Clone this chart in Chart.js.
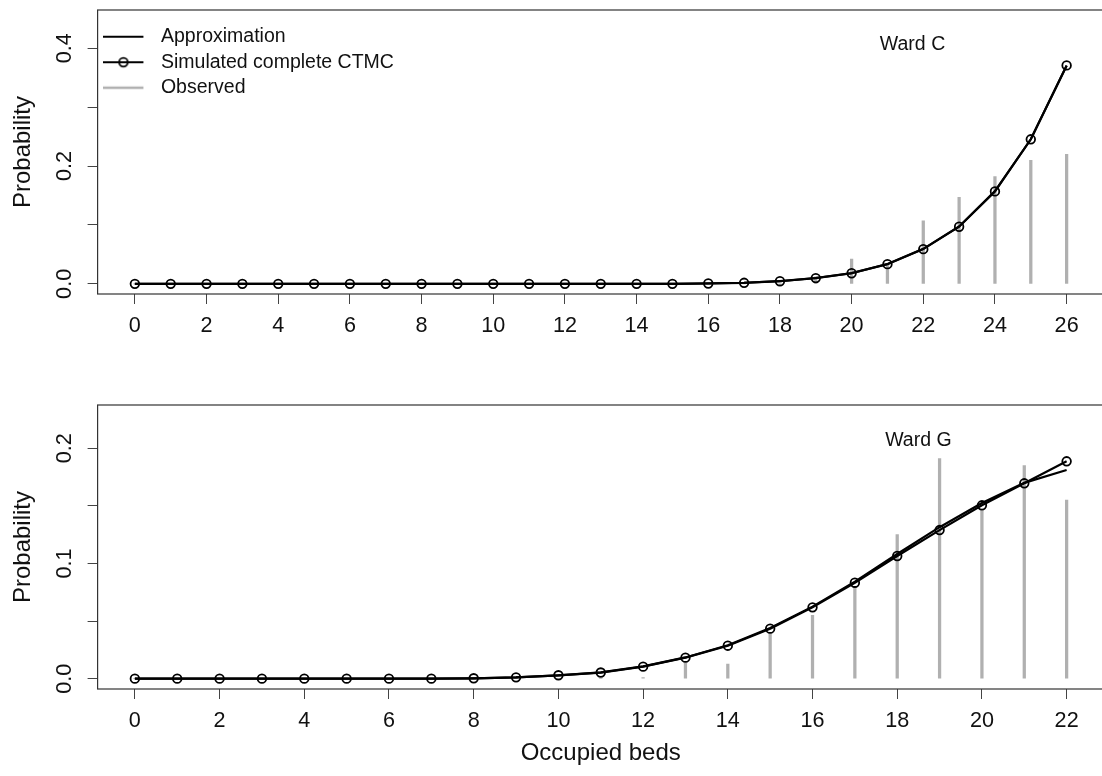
<!DOCTYPE html>
<html>
<head>
<meta charset="utf-8">
<script src="https://cdn.jsdelivr.net/npm/chart.js@4.4.1/dist/chart.umd.min.js"></script>
<style>
  html, body { margin: 0; padding: 0; background: #fff; overflow: hidden; }
  #wrap { position: relative; width: 1102px; height: 776px; overflow: hidden; }
  .panel { position: absolute; left: 0; }
  #top { top: 0; }
  #bottom { top: 390px; }
</style>
</head>
<body>
<div id="wrap">
  <div class="panel" id="top"><canvas id="wardC" width="1110" height="390"></canvas></div>
  <div class="panel" id="bottom"><canvas id="wardG" width="1110" height="386"></canvas></div>
</div>
<script>
// Ward C
const bedsC = [0,1,2,3,4,5,6,7,8,9,10,11,12,13,14,15,16,17,18,19,20,21,22,23,24,25,26];
const approxC = [0,0,0,0,0,0,0,0,0,0,0,0,0,0,0,0,0.0007,0.0019,0.0047,0.0100,0.0183,0.0338,0.0595,0.0975,0.1575,0.2455,0.3705];
const simC = [0,0,0,0,0,0,0,0,0,0,0,0,0,0,0,0,0.0006,0.0018,0.0045,0.0098,0.0180,0.0335,0.0590,0.0970,0.1570,0.2455,0.3710];
const obsC = [0,0,0,0,0,0,0,0,0,0,0,0,0,0,0,0,0,0,0,0.012,0.042,0.033,0.107,0.147,0.182,0.210,0.220];
const xTicksC = [0,2,4,6,8,10,12,14,16,18,20,22,24,26];
const yTicksC = [0, 0.1, 0.2, 0.3, 0.4];
const yLabelsC = ['0.0', '', '0.2', '', '0.4'];

// Ward G
const bedsG = [0,1,2,3,4,5,6,7,8,9,10,11,12,13,14,15,16,17,18,19,20,21,22];
const approxG = [0,0,0,0,0,0,0,0,0.0003,0.0011,0.0028,0.0054,0.0106,0.0184,0.0290,0.0440,0.0625,0.0842,0.1082,0.1315,0.1525,0.1700,0.1811];
const simG = [0,0,0,0,0,0,0,0,0.0003,0.0011,0.0029,0.0053,0.0104,0.0182,0.0286,0.0434,0.0619,0.0833,0.1065,0.1290,0.1505,0.1696,0.1887];
const obsG = [0,0,0,0,0,0,0,0,0,0,0,0,0.001,0.014,0.0127,0.040,0.055,0.080,0.125,0.191,0.146,0.185,0.155];
const xTicksG = [0,2,4,6,8,10,12,14,16,18,20,22];
const yTicksG = [0, 0.05, 0.1, 0.15, 0.2];
const yLabelsG = ['0.0', '', '0.1', '', '0.2'];

const seriesNames = ['Approximation', 'Simulated complete CTMC', 'Observed'];

Chart.defaults.font.family = '"Liberation Sans", Arial, Helvetica, sans-serif';
Chart.defaults.color = '#111';

const frame = {
  id: 'frame',
  beforeDatasetsDraw(chart) {
    const { ctx, chartArea: a } = chart;
    ctx.save();
    ctx.strokeStyle = '#333';
    ctx.lineWidth = 1.2;
    ctx.strokeRect(a.left, a.top, a.right - a.left, a.bottom - a.top);
    ctx.restore();
  }
};

const wardLabel = {
  id: 'wardLabel',
  afterDatasetsDraw(chart, args, opts) {
    if (!opts.text) return;
    const { ctx, scales } = chart;
    ctx.save();
    ctx.font = '19.5px "Liberation Sans", Arial, sans-serif';
    ctx.fillStyle = '#111';
    ctx.textAlign = 'center';
    ctx.textBaseline = 'middle';
    ctx.fillText(opts.text, scales.x.getPixelForValue(opts.x), scales.y.getPixelForValue(opts.y));
    ctx.restore();
  }
};

// little legend symbols in the R style
function legendIcon(kind) {
  const c = document.createElement('canvas');
  c.width = 48; c.height = 20;
  const g = c.getContext('2d');
  g.lineWidth = kind === 'obs' ? 2.6 : 2.2;
  g.strokeStyle = kind === 'obs' ? '#b0b0b0' : '#000';
  g.beginPath(); g.moveTo(0, 10); g.lineTo(40, 10); g.stroke();
  if (kind === 'sim') {
    g.lineWidth = 1.8;
    g.beginPath(); g.arc(20, 10, 4.3, 0, Math.PI * 2); g.stroke();
  }
  return c;
}
const icons = [legendIcon('line'), legendIcon('sim'), legendIcon('obs')];

const pts = (xs, ys) => xs.map((x, i) => ({ x: x, y: ys[i] }));

function makePanel(id, beds, approx, sim, obs, xTicks, yTicks, yLabels, yRange, cfg) {
  const tickFont = { size: 21.6 };
  const grid = { drawOnChartArea: false, drawTicks: true, tickLength: 10, lineWidth: 1, color: '#444', offset: false };
  return new Chart(document.getElementById(id), {
    type: 'line',
    data: {
      datasets: [
        { label: seriesNames[0], data: pts(beds, approx), borderColor: '#000', borderWidth: 2.2,
          pointRadius: 0, tension: 0, order: 2 },
        { label: seriesNames[1], data: pts(beds, sim), borderColor: '#000', borderWidth: 2.2,
          pointRadius: 4.3, pointBorderWidth: 1.8, pointBorderColor: '#000',
          pointBackgroundColor: 'rgba(0,0,0,0)', tension: 0, order: 1 },
        { type: 'bar', label: seriesNames[2], data: pts(beds, obs), backgroundColor: '#b0b0b0',
          barThickness: 2.6, order: 3 }
      ]
    },
    options: {
      responsive: false,
      animation: false,
      layout: { padding: { top: cfg.padTop, left: 0, right: 2, bottom: 0 } },
      plugins: {
        tooltip: { enabled: false },
        legend: {
          display: cfg.legend,
          position: 'chartArea',
          align: 'start',
          title: { display: true, text: '', font: { size: 10 }, padding: { top: 9, bottom: 0 } },
          labels: {
            usePointStyle: true,
            pointStyleWidth: 47.6,
            padding: 6,
            font: { size: 19.5 },
            generateLabels: chart => chart.data.datasets.map((ds, i) => ({
              text: ds.label, pointStyle: icons[i], datasetIndex: i, hidden: false,
              lineWidth: 0, fillStyle: 'rgba(0,0,0,0)', strokeStyle: 'rgba(0,0,0,0)', fontColor: '#111'
            }))
          }
        },
        wardLabel: cfg.ward
      },
      scales: {
        x: {
          type: 'linear', min: -0.04 * beds[beds.length - 1], max: 1.04 * beds[beds.length - 1],
          offset: false,
          afterBuildTicks: s => { s.ticks = xTicks.map(v => ({ value: v })); },
          afterFit: s => { s.height = cfg.xHeight; s.paddingLeft = 0; s.paddingRight = 0; },
          ticks: { autoSkip: false, minRotation: 0, maxRotation: 0, padding: 9,
            font: tickFont, color: '#111', callback: v => String(v) },
          grid: grid,
          border: { display: false },
          title: { display: cfg.xTitle, text: 'Occupied beds', font: { size: 24 }, color: '#111',
            padding: { top: 0, bottom: 8.6 } }
        },
        y: {
          type: 'linear', min: yRange[0], max: yRange[1],
          afterBuildTicks: s => { s.ticks = yTicks.map(v => ({ value: v })); },
          afterFit: s => { s.width = 97.6; s.paddingTop = 0; s.paddingBottom = 0; },
          ticks: { autoSkip: false, minRotation: 90, maxRotation: 90,
            crossAlign: 'center', padding: 8, font: tickFont, color: '#111', callback: (v, i) => yLabels[i] },
          grid: grid,
          border: { display: false },
          title: { display: true, text: 'Probability', font: { size: 24 }, color: '#111',
            padding: { top: 8.6, bottom: 0 } }
        }
      }
    },
    plugins: [frame, wardLabel]
  });
}

makePanel('wardC', bedsC, approxC, simC, obsC, xTicksC, yTicksC, yLabelsC, [-0.0172, 0.4651],
  { padTop: 10, xHeight: 96, legend: true, xTitle: false, ward: { text: 'Ward C', x: 21.7, y: 0.407 } });

makePanel('wardG', bedsG, approxG, simG, obsG, xTicksG, yTicksG, yLabelsG, [-0.0090, 0.2376],
  { padTop: 15, xHeight: 87, legend: false, xTitle: true, ward: { text: 'Ward G', x: 18.5, y: 0.207 } });
</script>
</body>
</html>
